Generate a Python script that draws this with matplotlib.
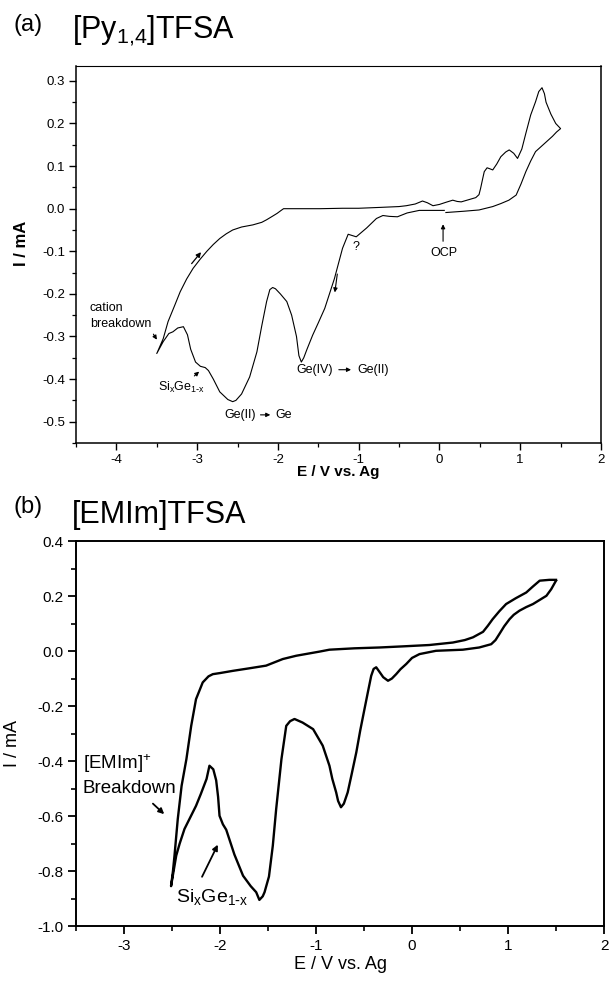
import matplotlib
matplotlib.use("Agg")
import matplotlib.pyplot as plt
from matplotlib.ticker import MultipleLocator, FormatStrFormatter

plt.rcParams['font.family'] = ['Liberation Sans', 'DejaVu Sans']
plt.rcParams['mathtext.default'] = 'regular'

# ---------------- (a) [Py1,4]TFSA ----------------
# cathodic scan from OCP to -3.5 V
E_a_cath = [0.06, -0.05, -0.25, -0.40, -0.52, -0.62, -0.70, -0.78, -0.90, -1.03, -1.08, -1.13,
            -1.20, -1.30, -1.42, -1.50, -1.57, -1.64, -1.68, -1.71, -1.74, -1.77, -1.83, -1.89,
            -1.97, -2.03, -2.065, -2.10, -2.14, -2.20, -2.26, -2.35, -2.45, -2.52, -2.56, -2.62,
            -2.72, -2.80, -2.86, -2.90, -2.96, -3.02, -3.08, -3.12, -3.17, -3.24, -3.30, -3.35,
            -3.42, -3.50]
I_a_cath = [-0.004, -0.004, -0.004, -0.010, -0.019, -0.018, -0.016, -0.023, -0.045, -0.066, -0.063, -0.060,
            -0.093, -0.164, -0.234, -0.268, -0.297, -0.330, -0.350, -0.360, -0.345, -0.300, -0.250, -0.218,
            -0.200, -0.188, -0.185, -0.190, -0.218, -0.275, -0.336, -0.395, -0.435, -0.450, -0.453, -0.448,
            -0.430, -0.400, -0.380, -0.373, -0.370, -0.360, -0.330, -0.296, -0.277, -0.280, -0.289, -0.293,
            -0.312, -0.340]
# anodic scan from -3.5 V to +1.5 V
E_a_anod = [-3.42, -3.36, -3.28, -3.21, -3.13, -3.05, -2.96, -2.88, -2.80, -2.72, -2.64, -2.56,
            -2.45, -2.31, -2.20, -2.14, -2.07, -2.01, -1.96, -1.93, -1.80, -1.48, -1.20, -1.00,
            -0.74, -0.50, -0.41, -0.30, -0.21, -0.15, -0.08, 0.00, 0.08, 0.165, 0.22, 0.27,
            0.36, 0.45, 0.49, 0.51, 0.535, 0.555, 0.59, 0.62, 0.66, 0.71, 0.76, 0.82,
            0.864, 0.92, 0.967, 1.02, 1.07, 1.13, 1.19, 1.23, 1.27, 1.30, 1.32, 1.38, 1.44, 1.50]
I_a_anod = [-0.305, -0.265, -0.228, -0.195, -0.165, -0.140, -0.118, -0.100, -0.084, -0.070, -0.059, -0.050,
            -0.043, -0.038, -0.032, -0.026, -0.018, -0.011, -0.004, 0.000, 0.000, 0.000, 0.001, 0.001,
            0.003, 0.005, 0.007, 0.011, 0.018, 0.014, 0.007, 0.010, 0.015, 0.020, 0.017, 0.016,
            0.021, 0.026, 0.033, 0.048, 0.070, 0.087, 0.096, 0.094, 0.091, 0.105, 0.122, 0.133,
            0.138, 0.130, 0.118, 0.140, 0.177, 0.220, 0.251, 0.275, 0.284, 0.270, 0.250, 0.222, 0.200, 0.188]
# return scan from +1.5 V back to OCP
E_a_ret = [1.45, 1.40, 1.33, 1.26, 1.19, 1.13, 1.07, 1.01, 0.95, 0.86, 0.76, 0.66, 0.49, 0.30, 0.08]
I_a_ret = [0.180, 0.170, 0.158, 0.146, 0.134, 0.112, 0.087, 0.058, 0.032, 0.020, 0.012, 0.005, -0.003, -0.006, -0.009]

# ---------------- (b) [EMIm]TFSA ----------------
E_b_cath = [1.50, 1.45, 1.40, 1.33, 1.26, 1.19, 1.12, 1.06, 1.016, 0.96, 0.91, 0.87, 0.825, 0.70,
            0.53, 0.25, 0.078, 0.00, -0.06, -0.12, -0.165, -0.21, -0.25, -0.30, -0.34, -0.373,
            -0.40, -0.425, -0.46, -0.495, -0.54, -0.58, -0.63, -0.67, -0.71, -0.74, -0.77, -0.79,
            -0.83, -0.86, -0.93, -1.03, -1.14, -1.224, -1.27, -1.31, -1.36, -1.415, -1.45, -1.49,
            -1.536, -1.555, -1.59, -1.623, -1.68, -1.76, -1.85, -1.935, -1.97, -2.005, -2.02, -2.04,
            -2.07, -2.11, -2.14, -2.20, -2.25, -2.31, -2.37, -2.42, -2.456, -2.51]
I_b_cath = [0.256, 0.225, 0.201, 0.186, 0.171, 0.160, 0.147, 0.132, 0.116, 0.090, 0.062, 0.040, 0.025, 0.013,
            0.005, 0.001, -0.011, -0.025, -0.047, -0.066, -0.084, -0.100, -0.108, -0.095, -0.075, -0.059,
            -0.065, -0.090, -0.150, -0.211, -0.290, -0.368, -0.450, -0.514, -0.555, -0.568, -0.545, -0.514,
            -0.465, -0.417, -0.344, -0.284, -0.260, -0.247, -0.255, -0.272, -0.393, -0.575, -0.708, -0.820,
            -0.877, -0.892, -0.905, -0.877, -0.855, -0.817, -0.740, -0.650, -0.630, -0.599, -0.530, -0.470,
            -0.430, -0.417, -0.465, -0.520, -0.563, -0.605, -0.647, -0.700, -0.744, -0.855]
E_b_anod = [-2.49, -2.474, -2.44, -2.40, -2.35, -2.30, -2.25, -2.18, -2.12, -2.075, -2.00, -1.867,
            -1.70, -1.52, -1.346, -1.206, -0.964, -0.86, -0.60, -0.34, -0.10, 0.18, 0.425, 0.55,
            0.635, 0.74, 0.79, 0.84, 0.91, 0.98, 1.08, 1.19, 1.26, 1.33, 1.43, 1.50]
I_b_anod = [-0.800, -0.744, -0.611, -0.490, -0.393, -0.272, -0.175, -0.114, -0.092, -0.084, -0.080, -0.072,
            -0.063, -0.053, -0.029, -0.017, -0.002, 0.005, 0.010, 0.013, 0.017, 0.022, 0.031, 0.040,
            0.050, 0.070, 0.092, 0.116, 0.145, 0.171, 0.192, 0.213, 0.235, 0.256, 0.259, 0.259]

fig = plt.figure(figsize=(6.09, 9.82), dpi=100)

SIGE = r'Si$_{x}$Ge$_{1\text{-}x}$'

# ================= panel (a) =================
ax1 = fig.add_axes([0.1248, 0.5489, 0.862, 0.3839])
ax1.plot(E_a_cath + E_a_anod + E_a_ret, I_a_cath + I_a_anod + I_a_ret, color='black', lw=0.8)
ax1.set_xlim(-4.5, 2)
ax1.set_ylim(-0.55, 0.335)
ax1.xaxis.set_major_locator(MultipleLocator(1))
ax1.xaxis.set_minor_locator(MultipleLocator(0.5))
ax1.yaxis.set_major_locator(MultipleLocator(0.1))
ax1.yaxis.set_minor_locator(MultipleLocator(0.05))
ax1.yaxis.set_major_formatter(FormatStrFormatter('%.1f'))
ax1.xaxis.set_major_formatter(FormatStrFormatter('%d'))
ax1.tick_params(which='major', direction='out', length=5, width=1.0, labelsize=9.5, pad=3)
ax1.tick_params(which='minor', direction='out', length=3, width=0.9)
for s in ax1.spines.values():
    s.set_linewidth(1.1)
ax1.spines['top'].set_linewidth(0.8)
ax1.set_ylabel('I / mA', fontsize=12, fontweight='bold')
ax1.set_xlabel('E / V vs. Ag', fontsize=11, fontweight='bold')
ax1.yaxis.set_label_coords(-0.09, 0.53)
ax1.xaxis.set_label_coords(0.5, -0.058)

afs = 9
ax1.text(-4.33, -0.232, 'cation', fontsize=afs, va='center', ha='left')
ax1.text(-4.33, -0.27, 'breakdown', fontsize=afs, va='center', ha='left')
ax1.annotate('', xy=(-3.48, -0.313), xytext=(-3.56, -0.289),
             arrowprops=dict(arrowstyle='-|>', lw=0.8, color='black', mutation_scale=6))
ax1.annotate('', xy=(-2.93, -0.097), xytext=(-3.09, -0.134),
             arrowprops=dict(arrowstyle='-|>', lw=0.9, color='black', mutation_scale=7))
ax1.text(-3.49, -0.42, SIGE, fontsize=afs, va='center', ha='left')
ax1.annotate('', xy=(-2.95, -0.378), xytext=(-3.06, -0.397),
             arrowprops=dict(arrowstyle='-|>', lw=0.8, color='black', mutation_scale=6))
ax1.text(-2.667, -0.484, 'Ge(II)', fontsize=afs, va='center', ha='left')
ax1.annotate('', xy=(-2.06, -0.484), xytext=(-2.25, -0.484),
             arrowprops=dict(arrowstyle='-|>', lw=0.8, color='black', mutation_scale=6))
ax1.text(-2.03, -0.484, 'Ge', fontsize=afs, va='center', ha='left')
ax1.text(-1.77, -0.378, 'Ge(IV)', fontsize=afs, va='center', ha='left')
ax1.annotate('', xy=(-1.06, -0.378), xytext=(-1.28, -0.378),
             arrowprops=dict(arrowstyle='-|>', lw=0.8, color='black', mutation_scale=6))
ax1.text(-1.01, -0.378, 'Ge(II)', fontsize=afs, va='center', ha='left')
ax1.text(-1.03, -0.089, '?', fontsize=afs, va='center', ha='center')
ax1.annotate('', xy=(-1.30, -0.203), xytext=(-1.26, -0.147),
             arrowprops=dict(arrowstyle='-|>', lw=0.8, color='black', mutation_scale=6))
ax1.text(0.06, -0.105, 'OCP', fontsize=afs, va='center', ha='center')
ax1.annotate('', xy=(0.045, -0.030), xytext=(0.045, -0.083),
             arrowprops=dict(arrowstyle='-|>', lw=0.8, color='black', mutation_scale=6))

fig.text(13 / 609, 1 - 25 / 982, '(a)', fontsize=17, va='center', ha='left')
fig.text(72 / 609, 1 - 38 / 982, r'[Py$_{1{,}4}$]TFSA', fontsize=22, va='baseline', ha='left')

# ================= panel (b) =================
ax2 = fig.add_axes([0.1248, 0.057, 0.867, 0.392])
ax2.plot(E_b_cath + E_b_anod, I_b_cath + I_b_anod, color='black', lw=1.7)
ax2.set_xlim(-3.5, 2)
ax2.set_ylim(-1.0, 0.4)
ax2.xaxis.set_major_locator(MultipleLocator(1))
ax2.xaxis.set_minor_locator(MultipleLocator(0.5))
ax2.yaxis.set_major_locator(MultipleLocator(0.2))
ax2.yaxis.set_minor_locator(MultipleLocator(0.1))
ax2.yaxis.set_major_formatter(FormatStrFormatter('%.1f'))
ax2.xaxis.set_major_formatter(FormatStrFormatter('%d'))
ax2.tick_params(which='major', direction='out', length=6, width=1.3, labelsize=11, pad=3)
ax2.tick_params(which='minor', direction='out', length=3.5, width=1.2)
for s in ax2.spines.values():
    s.set_linewidth(1.4)
ax2.set_ylabel('I / mA', fontsize=13)
ax2.set_xlabel('E / V vs. Ag', fontsize=13)
ax2.yaxis.set_label_coords(-0.104, 0.475)
ax2.xaxis.set_label_coords(0.5, -0.078)

bfs = 13.5
ax2.text(-3.43, -0.41, r'[EMIm]$^{+}$', fontsize=bfs, va='center', ha='left')
ax2.text(-3.43, -0.50, 'Breakdown', fontsize=bfs, va='center', ha='left')
ax2.annotate('', xy=(-2.56, -0.600), xytext=(-2.72, -0.548),
             arrowprops=dict(arrowstyle='-|>', lw=1.3, color='black', mutation_scale=8))
ax2.text(-2.456, -0.896, SIGE, fontsize=14, va='center', ha='left')
ax2.annotate('', xy=(-2.01, -0.695), xytext=(-2.20, -0.830),
             arrowprops=dict(arrowstyle='-|>', lw=1.3, color='black', mutation_scale=8))

fig.text(13 / 609, 1 - 507 / 982, '(b)', fontsize=17, va='center', ha='left')
fig.text(72 / 609, 1 - 523 / 982, '[EMIm]TFSA', fontsize=22, va='baseline', ha='left')

fig.savefig('out.png', dpi=100)
